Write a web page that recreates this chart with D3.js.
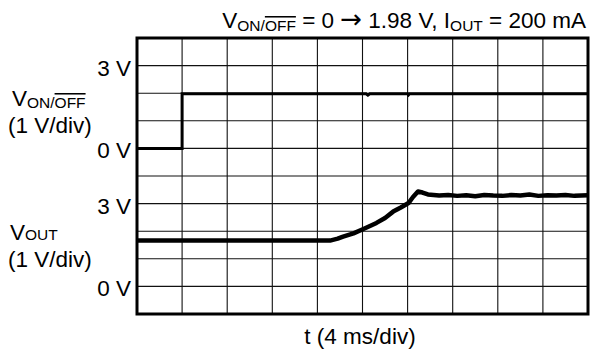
<!DOCTYPE html>
<html>
<head>
<meta charset="utf-8">
<script src="https://cdn.jsdelivr.net/npm/d3@7"></script>
<style>
  body { margin: 0; background: #fff; }
  text { font-family: "Liberation Sans", Arial, sans-serif; fill: #000; }
</style>
</head>
<body>
<div id="chart"></div>
<script>
// scope screen: 10 x 10 divisions, time in divisions (4 ms/div)
const xDivs = d3.range(0, 11);
const yDivs = d3.range(0, 11);

// V_ON/OFF channel, volts (0 V at 4th line from top)
const vonT = [0, 1, 1, 5.08, 5.12, 5.16, 6.0, 6.02, 6.04, 10];
const vonV = [0, 0, 1.98, 1.98, 1.93, 1.98, 1.98, 1.94, 1.98, 1.98];
const vonTicks = [0, 3];

// V_OUT channel, volts (0 V at 9th line from top)
const voutT = [0, 4.28, 4.45, 4.57, 4.8, 5.02, 5.31, 5.5, 5.68, 5.85, 6.02, 6.12, 6.23, 6.33, 6.45, 6.7,
  6.9, 7.1, 7.3, 7.5, 7.7, 7.9, 8.1, 8.3, 8.5, 8.7, 8.9, 9.1, 9.3, 9.5, 9.7, 10];
const voutV = [1.66, 1.66, 1.73, 1.80, 1.92, 2.08, 2.30, 2.48, 2.71, 2.86, 3.02, 3.24, 3.44, 3.40, 3.33, 3.29,
  3.31, 3.28, 3.30, 3.27, 3.31, 3.29, 3.28, 3.31, 3.29, 3.33, 3.28, 3.30, 3.29, 3.31, 3.28, 3.30];
const voutTicks = [0, 3];

const width = 590, height = 349;
const plot = { left: 137, right: 588, top: 38, bottom: 314 };

const svg = d3.select("#chart").append("svg")
  .attr("width", width)
  .attr("height", height);

const x = d3.scaleLinear().domain([0, 10]).range([plot.left, plot.right]);
const row = d3.scaleLinear().domain([0, 10]).range([plot.top, plot.bottom]);
// each channel: 1 V/div, zero line at a given division row
const yOn = d3.scaleLinear().domain([0, 1]).range([row(4), row(3)]);
const yOut = d3.scaleLinear().domain([0, 1]).range([row(9), row(8)]);

// grid
svg.append("g").selectAll("line.v")
  .data(xDivs.slice(1, -1))
  .join("line")
  .attr("x1", d => x(d)).attr("x2", d => x(d))
  .attr("y1", plot.top).attr("y2", plot.bottom)
  .attr("stroke", "#111").attr("stroke-width", 1.1);

svg.append("g").selectAll("line.h")
  .data(yDivs.slice(1, -1))
  .join("line")
  .attr("x1", plot.left).attr("x2", plot.right)
  .attr("y1", d => row(d)).attr("y2", d => row(d))
  .attr("stroke", "#111").attr("stroke-width", 1.1);

svg.append("rect")
  .attr("x", plot.left).attr("y", plot.top)
  .attr("width", plot.right - plot.left).attr("height", plot.bottom - plot.top)
  .attr("fill", "none").attr("stroke", "#000").attr("stroke-width", 3);

// traces
const onLine = d3.line().x(d => x(d[0])).y(d => yOn(d[1]));
svg.append("path")
  .datum(d3.zip(vonT, vonV))
  .attr("d", onLine)
  .attr("fill", "none").attr("stroke", "#000").attr("stroke-width", 3);

const outLine = d3.line().x(d => x(d[0])).y(d => yOut(d[1]));
svg.append("path")
  .datum(d3.zip(voutT, voutV))
  .attr("d", outLine)
  .attr("fill", "none").attr("stroke", "#000").attr("stroke-width", 4.5)
  .attr("stroke-linejoin", "round");

// tick labels
const big = 22.5, small = 15.5;
svg.append("g").selectAll("text")
  .data(vonTicks)
  .join("text")
  .attr("x", 131).attr("y", d => yOn(d) + 10)
  .attr("text-anchor", "end").attr("font-size", big)
  .text(d => `${d} V`);

svg.append("g").selectAll("text")
  .data(voutTicks)
  .join("text")
  .attr("x", 131).attr("y", d => yOut(d) + 10)
  .attr("text-anchor", "end").attr("font-size", big)
  .text(d => `${d} V`);

// channel names
const on = svg.append("text").attr("x", 12).attr("y", 106).attr("font-size", big);
on.append("tspan").text("V");
on.append("tspan").attr("font-size", small).attr("dy", 2).text("ON/");
on.append("tspan").attr("font-size", small).style("text-decoration", "overline").text("OFF");
svg.append("text").attr("x", 8).attr("y", 132.5).attr("font-size", big).text("(1 V/div)");

const out = svg.append("text").attr("x", 10).attr("y", 240).attr("font-size", big);
out.append("tspan").text("V");
out.append("tspan").attr("font-size", small).text("OUT");
svg.append("text").attr("x", 8).attr("y", 267).attr("font-size", big).text("(1 V/div)");

// title
const title = svg.append("text").attr("x", 586).attr("y", 28)
  .attr("text-anchor", "end").attr("font-size", big);
title.append("tspan").text("V");
title.append("tspan").attr("font-size", small).attr("dy", 3).text("ON/");
title.append("tspan").attr("font-size", small).style("text-decoration", "overline").text("OFF");
title.append("tspan").attr("dy", -3).text(" = 0 ");
title.append("tspan").style("font-family", "DejaVu Sans").attr("font-size", 26).text("\u2192");
title.append("tspan").text(" 1.98 V, I");
title.append("tspan").attr("font-size", small).attr("dy", 3).text("OUT");
title.append("tspan").attr("dy", -3).text(" = 200 mA");

// x axis label
svg.append("text").attr("x", 360).attr("y", 344)
  .attr("text-anchor", "middle").attr("font-size", big)
  .text("t (4 ms/div)");
</script>
</body>
</html>
